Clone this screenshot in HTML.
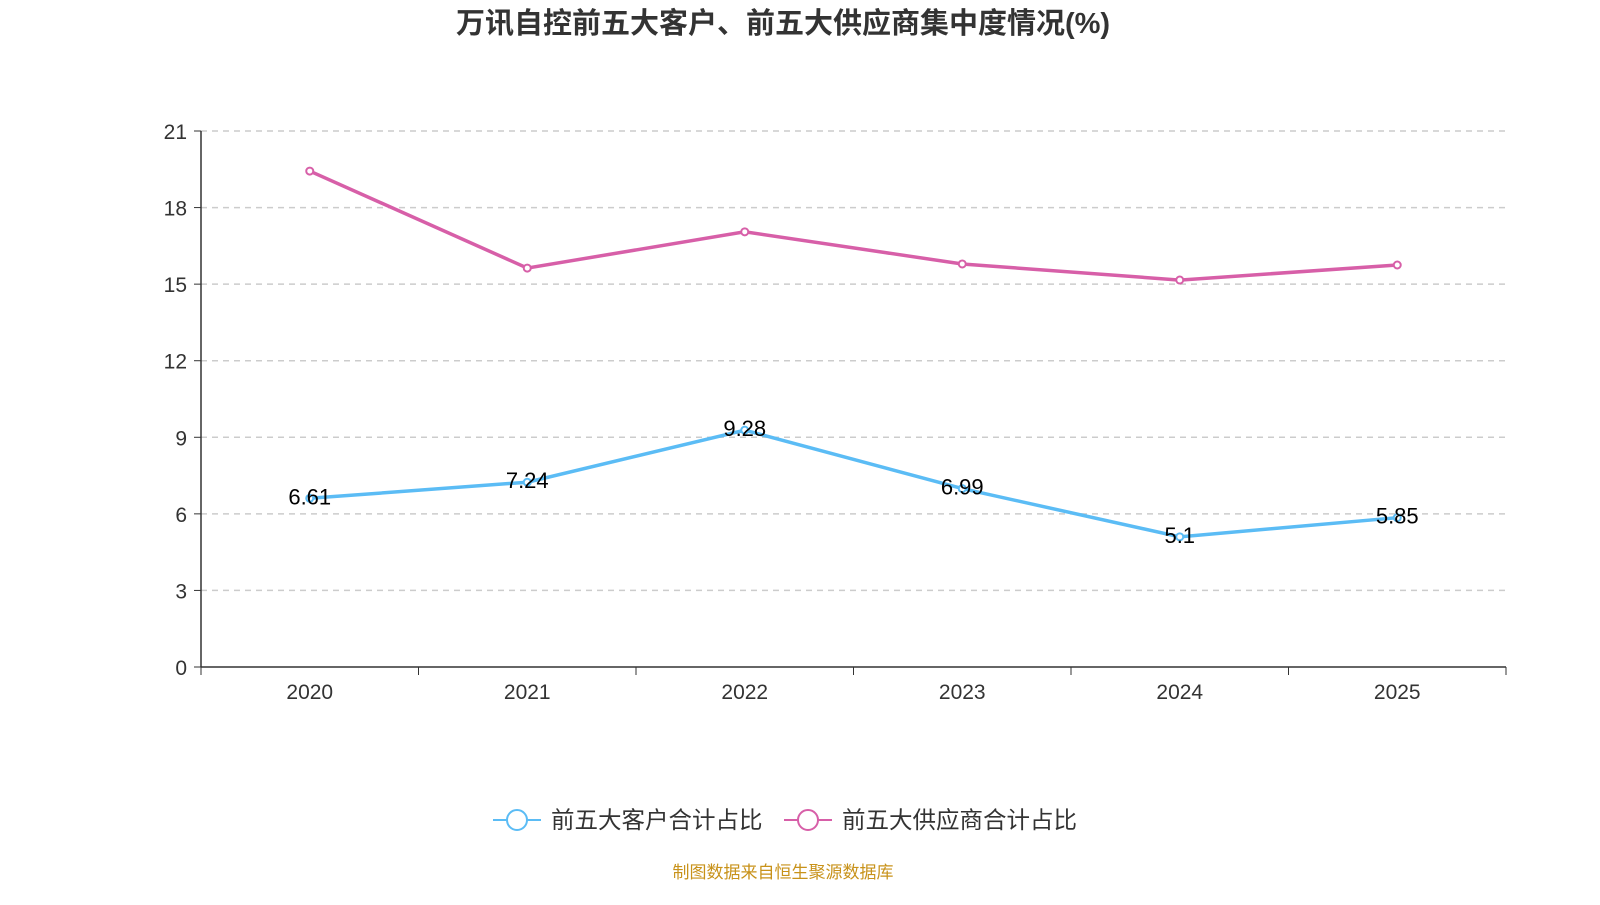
<!DOCTYPE html>
<html><head><meta charset="utf-8"><style>
body{margin:0;background:#fff;font-family:"Liberation Sans","Noto Sans CJK SC",sans-serif;}
svg text{font-family:"Liberation Sans","Noto Sans CJK SC",sans-serif;}
</style></head><body>
<svg id="chart" width="1600" height="900" xmlns="http://www.w3.org/2000/svg">
<text x="783" y="33" text-anchor="middle" font-size="29" font-weight="bold" fill="#333">万讯自控前五大客户、前五大供应商集中度情况(%)</text>
<g id="grid"></g><g id="axes"></g><g id="series"></g>
<g>
<g><line x1="493" y1="820" x2="541" y2="820" stroke="#5bbcf5" stroke-width="2"/><circle cx="517" cy="820" r="10" fill="#fff" stroke="#5bbcf5" stroke-width="2"/><text x="551" y="828" font-size="23.5" fill="#333">前五大客户合计占比</text></g>
<g><line x1="784" y1="820" x2="832" y2="820" stroke="#d75fa8" stroke-width="2"/><circle cx="808" cy="820" r="10" fill="#fff" stroke="#d75fa8" stroke-width="2"/><text x="842" y="828" font-size="23.5" fill="#333">前五大供应商合计占比</text></g>
</g>
<text x="783" y="878" text-anchor="middle" font-size="17" fill="#c8921a">制图数据来自恒生聚源数据库</text>
</svg>
<script>
const categories=["2020","2021","2022","2023","2024","2025"];
const customers=[6.61,7.24,9.28,6.99,5.1,5.85];
const suppliers=[19.43,15.63,17.05,15.79,15.16,15.75];
const yTicks=[0,3,6,9,12,15,18,21];
const NS="http://www.w3.org/2000/svg";
const x0=201,x1=1506,y0=667,y1=131,yMax=21;
const band=(x1-x0)/categories.length;
const X=i=>x0+band*(i+0.5);
const Y=v=>y0-(v/yMax)*(y0-y1);
function mk(t,a,p){const e=document.createElementNS(NS,t);for(const k in a)e.setAttribute(k,a[k]);p.appendChild(e);return e;}
const grid=document.getElementById('grid'),axes=document.getElementById('axes'),ser=document.getElementById('series');
yTicks.forEach(v=>{
 if(v>0){const g=mk('line',{x1:x0,x2:x1,y1:Y(v),y2:Y(v),stroke:'#ccc','stroke-dasharray':'6,5','stroke-width':1.5},grid);
 
 }
 mk('line',{x1:x0-7,x2:x0,y1:Y(v),y2:Y(v),stroke:'#333'},axes);
 const t=mk('text',{x:x0-14,y:Y(v)+8,'text-anchor':'end','font-size':21,fill:'#333'},axes);t.textContent=v;
 
 
});
mk('line',{x1:x0,x2:x0,y1:y1,y2:y0,stroke:'#333','stroke-width':1.5},axes);
mk('line',{x1:x0,x2:x1,y1:y0,y2:y0,stroke:'#333','stroke-width':1.5},axes);
for(let i=0;i<=categories.length;i++)mk('line',{x1:x0+band*i,x2:x0+band*i,y1:y0,y2:y0+8,stroke:'#333'},axes);
categories.forEach((c,i)=>{const t=mk('text',{x:X(i),y:y0+32,'text-anchor':'middle','font-size':21,fill:'#333'},axes);t.textContent=c;
 
 });
function draw(vals,color,name,labels){
 const p=mk('polyline',{points:vals.map((v,i)=>X(i)+','+Y(v)).join(' '),fill:'none',stroke:color,'stroke-width':3.5},ser);
 
 
 vals.forEach((v,i)=>{const c=mk('circle',{cx:X(i),cy:Y(v),r:3.5,fill:'#fff',stroke:color,'stroke-width':2},ser);
  
  
  if(labels){const t=mk('text',{x:X(i),y:Y(v)+6,'text-anchor':'middle','font-size':22,fill:'#000'},ser);t.textContent=v;
  
  }});
}
draw(suppliers,'#d75fa8','suppliers',false);
draw(customers,'#5bbcf5','customers',true);
</script>
</body></html>
